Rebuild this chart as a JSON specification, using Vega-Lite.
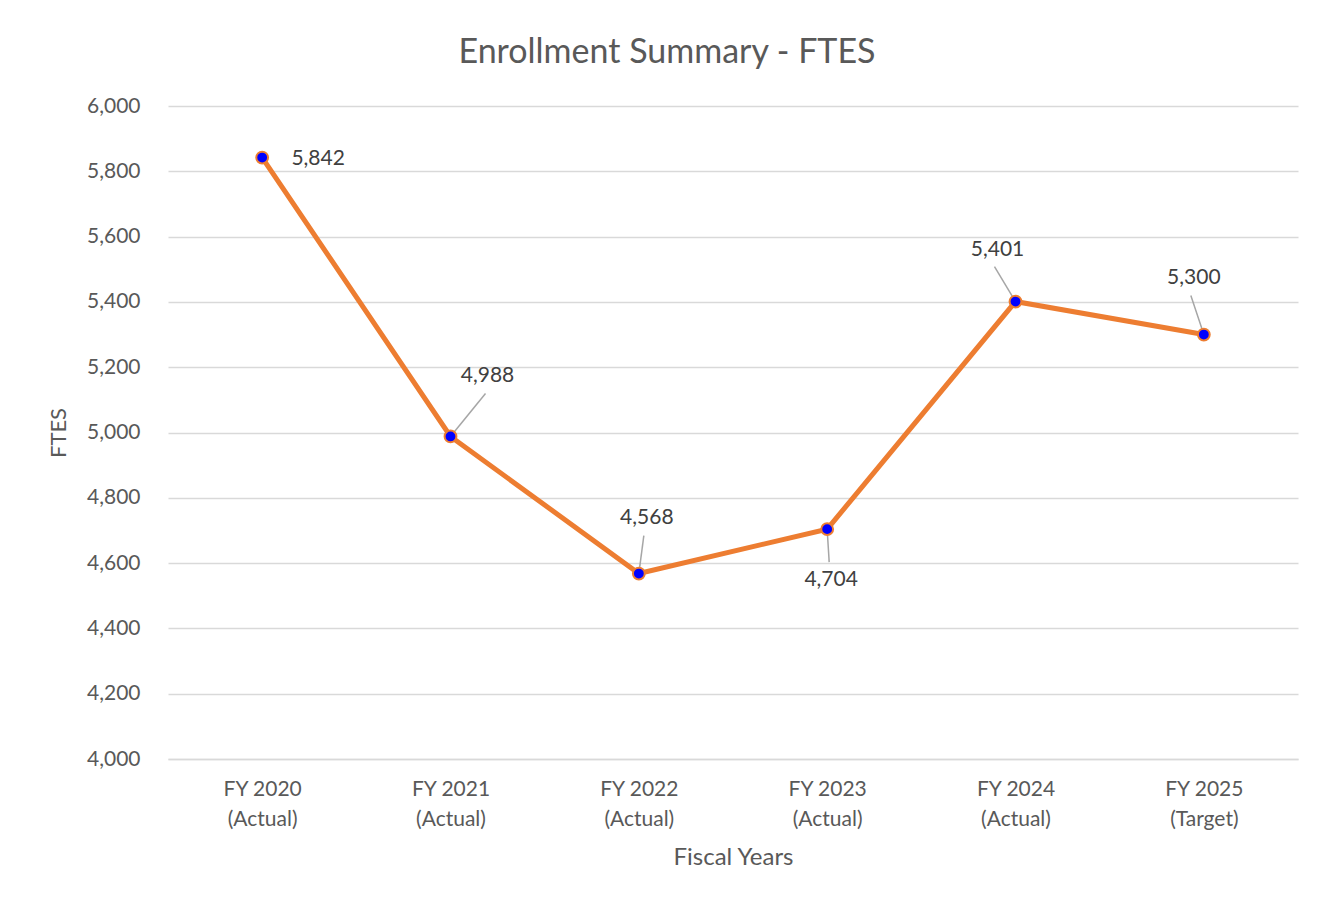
{
  "$schema": "https://vega.github.io/schema/vega-lite/v6.json",
  "autosize": {"type": "none"},
  "width": 1130,
  "height": 653,
  "padding": {"left": 168, "top": 106, "right": 33, "bottom": 144},
  "background": "white",
  "config": {
    "view": {"stroke": null},
    "font": "Lato"
  },
  "title": {
    "text": "Enrollment Summary - FTES",
    "font": "Lato",
    "fontSize": 34,
    "fontWeight": "normal",
    "color": "#595959",
    "anchor": "middle",
    "frame": "group",
    "dx": -66,
    "offset": 25
  },
  "data": {
    "values": [
      {"year": "FY 2020 (Actual)", "ftes": 5842},
      {"year": "FY 2021 (Actual)", "ftes": 4988},
      {"year": "FY 2022 (Actual)", "ftes": 4568},
      {"year": "FY 2023 (Actual)", "ftes": 4704},
      {"year": "FY 2024 (Actual)", "ftes": 5401},
      {"year": "FY 2025 (Target)", "ftes": 5300}
    ]
  },
  "encoding": {
    "x": {
      "field": "year",
      "type": "ordinal",
      "sort": null,
      "scale": {"type": "point", "padding": 0.5},
      "axis": {
        "title": "Fiscal Years",
        "titleFont": "Lato",
        "titleFontSize": 24,
        "titleFontWeight": "normal",
        "titleColor": "#595959",
        "titlePadding": 16,
        "labelExpr": "[slice(datum.label, 0, 7), slice(datum.label, 8)]",
        "labelAngle": 0,
        "labelFont": "Lato",
        "labelFontSize": 21,
        "labelColor": "#595959",
        "labelLineHeight": 30,
        "labelPadding": 19,
        "labelBaseline": "top",
        "ticks": false,
        "domain": true,
        "domainColor": "#d9d9d9",
        "domainWidth": 1.5,
        "grid": false
      }
    },
    "y": {
      "field": "ftes",
      "type": "quantitative",
      "scale": {"domain": [4000, 6000], "nice": false, "zero": false},
      "axis": {
        "title": "FTES",
        "titleFont": "Lato",
        "titleFontSize": 22,
        "titleFontWeight": "normal",
        "titleColor": "#595959",
        "titlePadding": 16,
        "values": [4000, 4200, 4400, 4600, 4800, 5000, 5200, 5400, 5600, 5800, 6000],
        "format": ",.0f",
        "labelFont": "Lato",
        "labelFontSize": 21,
        "labelColor": "#595959",
        "labelPadding": 28,
        "ticks": false,
        "domain": false,
        "grid": true,
        "gridColor": "#d9d9d9",
        "gridWidth": 1.5
      }
    }
  },
  "layer": [
    {
      "mark": {"type": "line", "color": "#ED7D31", "strokeWidth": 5}
    },
    {
      "transform": [{"filter": "datum.year == 'FY 2021 (Actual)'"}],
      "mark": {"type": "rule", "color": "#a6a6a6", "strokeWidth": 1.5, "x2Offset": 35, "y2Offset": -43},
      "encoding": {"x2": {"field": "year"}, "y2": {"field": "ftes"}}
    },
    {
      "transform": [{"filter": "datum.year == 'FY 2022 (Actual)'"}],
      "mark": {"type": "rule", "color": "#a6a6a6", "strokeWidth": 1.5, "x2Offset": 5, "y2Offset": -38},
      "encoding": {"x2": {"field": "year"}, "y2": {"field": "ftes"}}
    },
    {
      "transform": [{"filter": "datum.year == 'FY 2023 (Actual)'"}],
      "mark": {"type": "rule", "color": "#a6a6a6", "strokeWidth": 1.5, "x2Offset": 2, "y2Offset": 33},
      "encoding": {"x2": {"field": "year"}, "y2": {"field": "ftes"}}
    },
    {
      "transform": [{"filter": "datum.year == 'FY 2024 (Actual)'"}],
      "mark": {"type": "rule", "color": "#a6a6a6", "strokeWidth": 1.5, "x2Offset": -21, "y2Offset": -35},
      "encoding": {"x2": {"field": "year"}, "y2": {"field": "ftes"}}
    },
    {
      "transform": [{"filter": "datum.year == 'FY 2025 (Target)'"}],
      "mark": {"type": "rule", "color": "#a6a6a6", "strokeWidth": 1.5, "x2Offset": -13, "y2Offset": -39},
      "encoding": {"x2": {"field": "year"}, "y2": {"field": "ftes"}}
    },
    {
      "mark": {"type": "point", "shape": "circle", "filled": true, "fill": "#0000FF", "stroke": "#ED7D31", "strokeWidth": 2, "size": 140, "opacity": 1}
    },
    {
      "transform": [{"filter": "datum.year == 'FY 2020 (Actual)'"}],
      "mark": {"type": "text", "font": "Lato", "fontSize": 21, "color": "#404040", "align": "center", "baseline": "middle", "dx": 56, "dy": 1},
      "encoding": {"text": {"field": "ftes", "type": "quantitative", "format": ","}}
    },
    {
      "transform": [{"filter": "datum.year == 'FY 2021 (Actual)'"}],
      "mark": {"type": "text", "font": "Lato", "fontSize": 21, "color": "#404040", "align": "center", "baseline": "middle", "dx": 37, "dy": -60},
      "encoding": {"text": {"field": "ftes", "type": "quantitative", "format": ","}}
    },
    {
      "transform": [{"filter": "datum.year == 'FY 2022 (Actual)'"}],
      "mark": {"type": "text", "font": "Lato", "fontSize": 21, "color": "#404040", "align": "center", "baseline": "middle", "dx": 8, "dy": -56},
      "encoding": {"text": {"field": "ftes", "type": "quantitative", "format": ","}}
    },
    {
      "transform": [{"filter": "datum.year == 'FY 2023 (Actual)'"}],
      "mark": {"type": "text", "font": "Lato", "fontSize": 21, "color": "#404040", "align": "center", "baseline": "middle", "dx": 4, "dy": 51},
      "encoding": {"text": {"field": "ftes", "type": "quantitative", "format": ","}}
    },
    {
      "transform": [{"filter": "datum.year == 'FY 2024 (Actual)'"}],
      "mark": {"type": "text", "font": "Lato", "fontSize": 21, "color": "#404040", "align": "center", "baseline": "middle", "dx": -18, "dy": -52},
      "encoding": {"text": {"field": "ftes", "type": "quantitative", "format": ","}}
    },
    {
      "transform": [{"filter": "datum.year == 'FY 2025 (Target)'"}],
      "mark": {"type": "text", "font": "Lato", "fontSize": 21, "color": "#404040", "align": "center", "baseline": "middle", "dx": -10, "dy": -57},
      "encoding": {"text": {"field": "ftes", "type": "quantitative", "format": ","}}
    }
  ]
}
